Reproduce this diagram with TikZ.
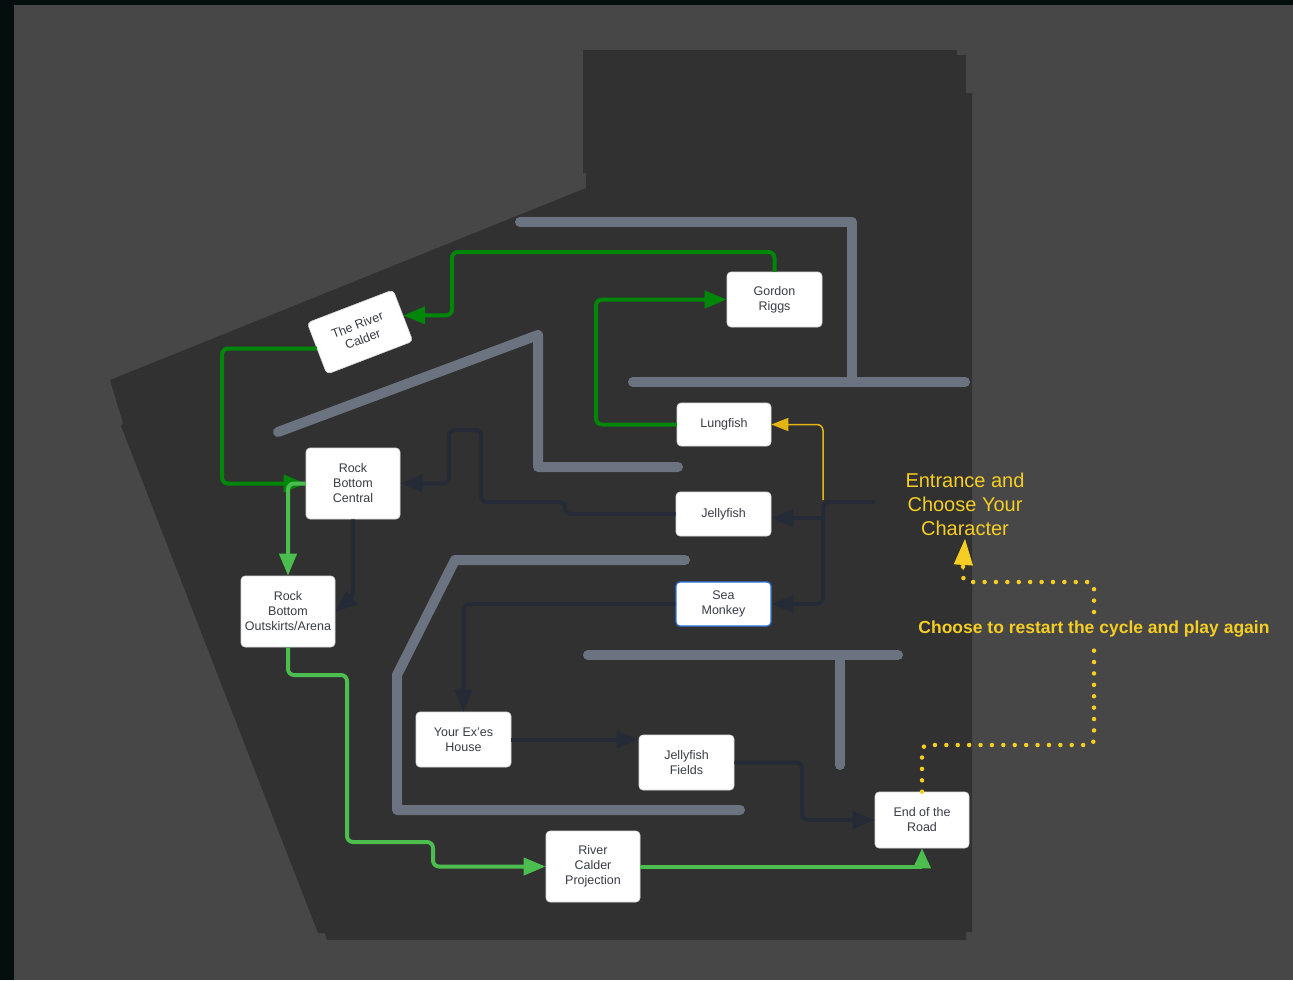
\documentclass[tikz,border=0pt]{standalone}
\usepackage{fontspec}
\setmainfont{Liberation Sans}
\usetikzlibrary{arrows.meta}

\definecolor{bgout}{RGB}{4,14,14}
\definecolor{bggray}{RGB}{71,71,71}
\definecolor{floorc}{RGB}{49,49,49}
\definecolor{wallc}{RGB}{108,115,128}
\definecolor{navyc}{RGB}{36,42,54}
\definecolor{dgreen}{RGB}{0,135,10}
\definecolor{lgreen}{RGB}{76,190,80}
\definecolor{gold}{RGB}{245,205,35}
\definecolor{amber}{RGB}{228,180,20}
\definecolor{nodetext}{RGB}{55,60,70}
\definecolor{seablue}{RGB}{45,115,215}

\begin{document}
\begin{tikzpicture}[x=1pt,y=-1pt,
  room/.style={draw=black!15, line width=0.6pt, fill=white, rounded corners=4pt,
    inner sep=0pt, align=center, text=nodetext,
    font=\fontsize{12.5}{15}\selectfont},
  wallline/.style={wallc, line width=10pt, line cap=round, line join=round},
  path/.style={line width=4pt, rounded corners=6pt},
  navyline/.style={path, navyc},
  dgline/.style={path, dgreen},
  lgline/.style={path, lgreen},
  bigtip/.style={-{Triangle[length=22pt,width=17pt]}},
  dotline/.style={gold, line width=4.5pt, line cap=round,
    dash pattern=on 0pt off 11.4pt, rounded corners=6pt}
]
% canvas and backdrop
\fill[bgout] (0,0) rectangle (1293,980);
\fill[bggray] (14,5) rectangle (1293,980);
\useasboundingbox (0,0) rectangle (1293,980);

% floor plan outline
\fill[floorc] (583,50) -- (957,50) -- (957,55) -- (966,55) -- (966,93) -- (972,93)
  -- (972,932) -- (966,932) -- (966,940) -- (327,940) -- (325,933) -- (318,933)
  -- (121,426) -- (123,423) -- (110,380) -- (586,188) -- (586,173) -- (583,173) -- cycle;

% walls
\draw[wallline] (520,222) -- (852,222) -- (852,380);
\draw[wallline] (633,382) -- (965,382);
\draw[wallline] (278,432) -- (538,335) -- (538,467) -- (678,467);
\draw[wallline] (685,560) -- (455,560) -- (397,675) -- (397,810) -- (740,810);
\draw[wallline] (588,655) -- (898,655);
\draw[wallline] (840,655) -- (840,765);

% rooms
\node[room, minimum width=95pt, minimum height=55pt] (gordon) at (774.5,299.5) {Gordon\\Riggs};
\node[room, minimum width=92pt, minimum height=55pt, rotate=21] (rc) at (360,332) {The River\\Calder};
\node[room, minimum width=94pt, minimum height=43pt] (lung) at (724,424.5) {Lungfish};
\node[room, minimum width=95pt, minimum height=44pt] (jelly) at (723.5,514) {Jellyfish};
\node[room, minimum width=95pt, minimum height=44pt, draw=seablue, line width=1.2pt] (sea) at (723.5,604) {Sea\\Monkey};
\node[room, minimum width=94pt, minimum height=71pt] (rbc) at (353,483.5) {Rock\\Bottom\\Central};
\node[room, minimum width=94pt, minimum height=71pt] (rbo) at (288,611.5) {Rock\\Bottom\\Outskirts/Arena};
\node[room, minimum width=95pt, minimum height=55pt] (exes) at (463.5,739.5) {Your Ex'es\\House};
\node[room, minimum width=95pt, minimum height=55pt] (fields) at (686.5,762.5) {Jellyfish\\Fields};
\node[room, minimum width=94pt, minimum height=56pt] (endroad) at (922,820) {End of the\\Road};
\node[room, minimum width=94pt, minimum height=71pt] (proj) at (593,866.5) {River\\Calder\\Projection};

% labels
\node[font=\fontsize{20}{24}\selectfont, text=gold, align=center, inner sep=0pt, anchor=south]
  (entrance) at (965,536) {Entrance and\\Choose Your\\Character};
\node[font=\bfseries\fontsize{17.5}{20}\selectfont, text=gold, inner sep=0pt]
  (restart) at (1094,629) {Choose to restart the cycle and play again};
\coordinate (entry) at (875,502);

% entrance branches
\draw[amber, line width=1.5pt, rounded corners=6pt, -{Triangle[length=17pt,width=13pt]}]
  (823,500) |- (lung.east);
\draw[navyline, bigtip] (entry) -- (823,502) -- (823,604) -- (sea.east);
\draw[navyline, bigtip] (823,518) -- ([yshift=-4pt]jelly.east);

% dark passages
\draw[navyline, bigtip] (jelly.west) -- (565,514) -- (565,502) -- (481,502) -- (481,430)
  -- (449,430) |- (rbc.east);
\draw[navyline, bigtip] (rbc.south) -- (353,597) -- (rbo.east);
\draw[navyline, bigtip] (sea.west) -| (exes.north);
\draw[navyline, bigtip] (exes.east) -- (fields.west |- exes.east);
\draw[navyline, bigtip] (fields.east) -- (802,762.5) |- (endroad.west);

% upper loop
\draw[dgline, bigtip] (gordon.north) |- (452,252) |- (rc.east);
\draw[dgline, bigtip] (rc.west) -| (222,420) |- (rbc.west);
\draw[dgline, bigtip] (lung.west) -| (596,350) |- (gordon.west);

% lower route
\draw[lgline, bigtip] (rbc.west) -| (rbo.north);
\draw[lgline, bigtip] (rbo.south) |- (347,675) |- (433,842) |- (proj.west);
\draw[lgline, rounded corners=0pt, -{Triangle[length=20pt,width=17pt]}] (proj.east) -| (endroad.south);

% restart loop, broken around its caption
\draw[dotline] (endroad.north) |- (1094,745) -- (1094,646);
\draw[dotline] (1094,612) |- (963,582) -- (963,566);
\draw[gold, line width=1pt, -{Triangle[length=26pt,width=19pt]}] (963,570) -- ([yshift=-3pt]entrance.south);
\end{tikzpicture}
\end{document}
